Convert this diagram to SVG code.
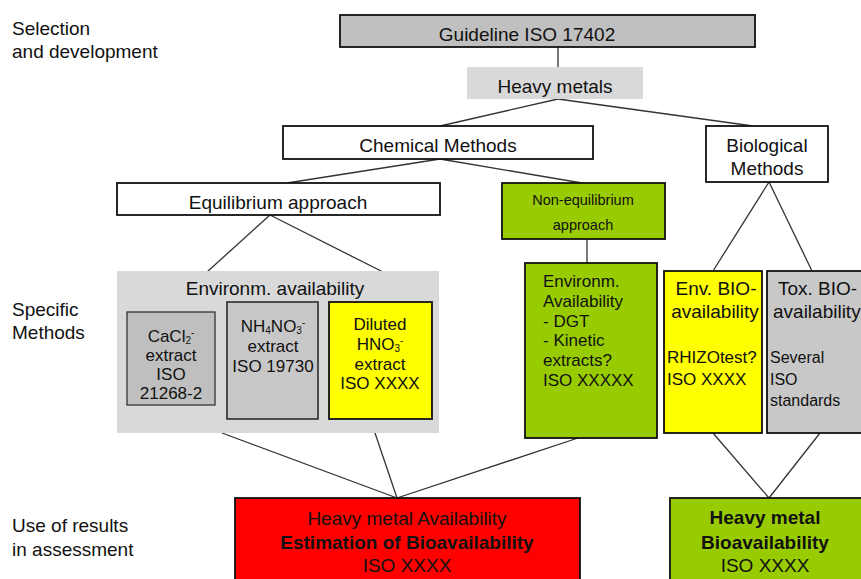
<svg xmlns="http://www.w3.org/2000/svg" width="861" height="579" viewBox="0 0 861 579">
<style>
text{font-family:"Liberation Sans",Arial,sans-serif;fill:#111}
.lbl{font-size:19px}
.t19{font-size:19px}
.t17{font-size:17px}
.t16{font-size:16px}
.t15{font-size:14.5px}
.c{text-anchor:middle}
.b{font-weight:bold}
.sub{font-size:10px}
.box{stroke:#111;stroke-width:1.8}
.con line{stroke:#333;stroke-width:1.3}
</style>
<rect width="861" height="579" fill="#fff"/>
<g id="stage-labels">
<text class="lbl" x="12" y="35">Selection</text>
<text class="lbl" x="12" y="58">and development</text>
<text class="lbl" x="12" y="316">Specific</text>
<text class="lbl" x="12" y="339">Methods</text>
<text class="lbl" x="12" y="532">Use of results</text>
<text class="lbl" x="12" y="556">in assessment</text>
</g>
<g id="connectors" class="con">
<line x1="558" y1="47" x2="558" y2="67"/>
<line x1="558" y1="99" x2="440" y2="126"/>
<line x1="558" y1="99" x2="753" y2="126"/>
<line x1="440" y1="159" x2="287" y2="183"/>
<line x1="440" y1="159" x2="582" y2="183"/>
<line x1="270" y1="215" x2="207" y2="272"/>
<line x1="270" y1="215" x2="383" y2="272"/>
<line x1="587" y1="239" x2="587" y2="273"/>
<line x1="769" y1="182" x2="713" y2="271"/>
<line x1="769" y1="182" x2="812" y2="271"/>
<line x1="222" y1="433" x2="397" y2="498"/>
<line x1="375" y1="433" x2="397" y2="498"/>
<line x1="587" y1="435" x2="397" y2="498"/>
<line x1="713" y1="433" x2="769" y2="498"/>
<line x1="820" y1="433" x2="769" y2="498"/>
</g>
<g id="guideline">
<rect class="box" x="340" y="15" width="415" height="32" fill="#c0c0c0"/>
<text class="t19 c" x="527" y="41">Guideline ISO 17402</text>
</g>
<g id="heavy-metals">
<rect x="467" y="67" width="176" height="32" fill="#d9d9d9"/>
<text class="t19 c" x="555" y="93">Heavy metals</text>
</g>
<g id="chemical-methods">
<rect class="box" x="283" y="126" width="310" height="33" fill="#fff"/>
<text class="t19 c" x="438" y="152">Chemical Methods</text>
</g>
<g id="biological-methods">
<rect class="box" x="706" y="126" width="122" height="56" fill="#fff"/>
<text class="t19 c" x="767" y="152">Biological</text>
<text class="t19 c" x="767" y="175">Methods</text>
</g>
<g id="equilibrium">
<rect class="box" x="117" y="183" width="323" height="32" fill="#fff"/>
<text class="t19 c" x="278" y="209">Equilibrium approach</text>
</g>
<g id="non-equilibrium">
<rect class="box" x="502" y="183" width="163" height="56" fill="#99cc00"/>
<text class="t15 c" x="583" y="205">Non-equilibrium</text>
<text class="t15 c" x="583" y="230">approach</text>
</g>
<g id="environm-availability">
<rect x="117" y="271" width="322" height="162" fill="#d9d9d9"/>
<text class="t19 c" x="275" y="295">Environm. availability</text>
</g>
<g id="cacl2">
<rect x="127" y="312" width="88" height="93" fill="#bfbfbf" stroke="#333" stroke-width="1.3"/>
<text class="t17 c" x="171" y="342">CaCl<tspan class="sub" dy="2">2</tspan><tspan class="sub" dy="-8">-</tspan></text>
<text class="t17 c" x="171" y="361">extract</text>
<text class="t17 c" x="171" y="380">ISO</text>
<text class="t17 c" x="171" y="399">21268-2</text>
</g>
<g id="nh4no3">
<rect x="227" y="302" width="91" height="117" fill="#c8c8c8" stroke="#222" stroke-width="1.5"/>
<text class="t17 c" x="273" y="332">NH<tspan class="sub" dy="2">4</tspan><tspan dy="-2">NO</tspan><tspan class="sub" dy="2">3</tspan><tspan class="sub" dy="-8">-</tspan></text>
<text class="t17 c" x="273" y="352">extract</text>
<text class="t17 c" x="273" y="372">ISO 19730</text>
</g>
<g id="hno3">
<rect class="box" x="329" y="302" width="103" height="117" fill="#ffff00"/>
<text class="t17 c" x="380" y="330">Diluted</text>
<text class="t17 c" x="380" y="350">HNO<tspan class="sub" dy="2">3</tspan><tspan class="sub" dy="-8">-</tspan></text>
<text class="t17 c" x="380" y="370">extract</text>
<text class="t17 c" x="380" y="389">ISO XXXX</text>
</g>
<g id="environm-availability-dgt">
<rect class="box" x="525" y="263" width="132" height="175" fill="#99cc00"/>
<text class="t17" x="543" y="287">Environm.</text>
<text class="t17" x="543" y="307">Availability</text>
<text class="t17" x="543" y="327">- DGT</text>
<text class="t17" x="543" y="346">- Kinetic</text>
<text class="t17" x="543" y="366">extracts?</text>
<text class="t17" x="543" y="386">ISO XXXXX</text>
</g>
<g id="env-bioavailability">
<rect class="box" x="664" y="271" width="98" height="162" fill="#ffff00"/>
<text class="t19 c" x="716" y="295">Env. BIO-</text>
<text class="t19 c" x="715" y="318">availability</text>
<text class="t17" x="667" y="363">RHIZOtest?</text>
<text class="t17" x="667" y="385">ISO XXXX</text>
</g>
<g id="tox-bioavailability">
<rect class="box" x="767" y="271" width="100" height="162" fill="#c8c8c8"/>
<text class="t19" x="778" y="295">Tox. BIO-</text>
<text class="t19" x="773" y="318">availability</text>
<text class="t16" x="770" y="363">Several</text>
<text class="t16" x="770" y="385">ISO</text>
<text class="t16" x="770" y="406">standards</text>
</g>
<g id="heavy-metal-availability">
<rect class="box" x="235" y="498" width="345" height="85" fill="#ff0000"/>
<text class="t19 c" x="407" y="525">Heavy metal Availability</text>
<text class="t19 c b" x="407" y="549">Estimation of Bioavailability</text>
<text class="t19 c" x="407" y="572">ISO XXXX</text>
</g>
<g id="heavy-metal-bioavailability">
<rect class="box" x="670" y="498" width="196" height="85" fill="#99cc00"/>
<text class="t19 c b" x="765" y="524">Heavy metal</text>
<text class="t19 c b" x="765" y="549">Bioavailability</text>
<text class="t19 c" x="765" y="572">ISO XXXX</text>
</g>
</svg>
